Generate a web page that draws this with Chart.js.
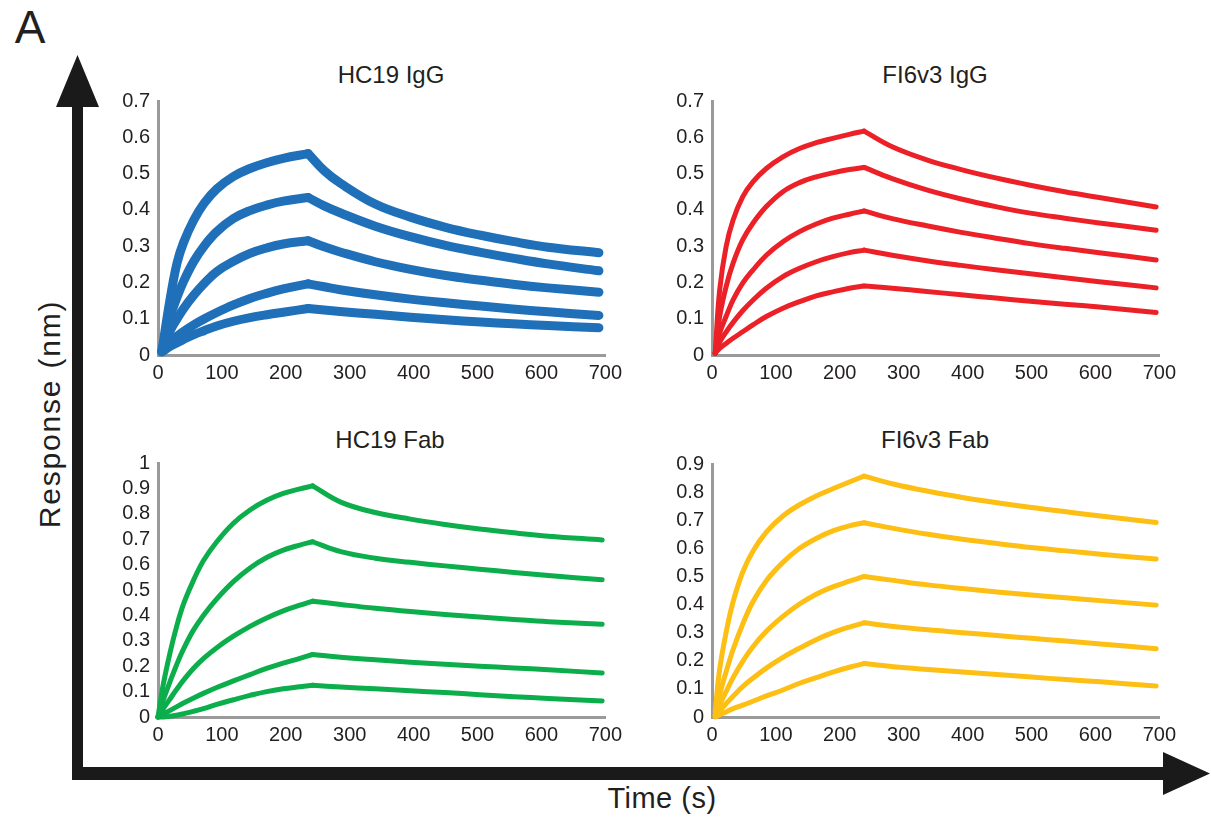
<!DOCTYPE html>
<html>
<head>
<meta charset="utf-8">
<script src="https://cdn.jsdelivr.net/npm/chart.js@4.4.1/dist/chart.umd.min.js"></script>
<style>
    body { margin:0; background:#fff; width:1211px; height:817px; position:relative; overflow:hidden;
           font-family:"Liberation Sans", Arial, sans-serif; color:#231f20; }
    canvas { position:absolute; }
    .lbl { position:absolute; white-space:nowrap; transform:translate(-50%,-50%); }
    .ttl { font-size:24px; }
    #arrows { position:absolute; left:0; top:0; }
</style>
</head>
<body>
<svg id="arrows" width="1211" height="817">
    <rect x="72" y="100" width="11" height="680" fill="#1a1a1a"/>
    <polygon points="56,107 77.5,55 99,107" fill="#1a1a1a"/>
    <rect x="72" y="767" width="1094" height="13" fill="#1a1a1a"/>
    <polygon points="1163,752 1210,773.5 1163,795" fill="#1a1a1a"/>
</svg>

<div class="lbl" style="left:30px;top:27px;font-size:46px;">A</div>
<div class="lbl" style="left:50px;top:414px;font-size:30px;letter-spacing:1.8px;transform:translate(-50%,-50%) rotate(-90deg);">Response (nm)</div>
<div class="lbl" style="left:662px;top:798px;font-size:29px;letter-spacing:0.5px;">Time (s)</div>

<div class="lbl ttl" style="left:391px;top:75px;">HC19 IgG</div>
<div class="lbl ttl" style="left:935px;top:75px;">FI6v3 IgG</div>
<div class="lbl ttl" style="left:390px;top:440px;">HC19 Fab</div>
<div class="lbl ttl" style="left:935px;top:440px;">FI6v3 Fab</div>

<canvas id="hc19IgGChart" width="522" height="306" style="left:106px;top:81px"></canvas>
<canvas id="fi6IgGChart" width="522" height="306" style="left:660px;top:81px"></canvas>
<canvas id="hc19FabChart" width="522" height="306" style="left:106px;top:443px"></canvas>
<canvas id="fi6FabChart" width="522" height="305" style="left:660px;top:444px"></canvas>

<script>
// tick labels
const timeTicks = [0, 100, 200, 300, 400, 500, 600, 700];
const igGTicks = [0, 0.1, 0.2, 0.3, 0.4, 0.5, 0.6, 0.7];
const hc19FabTicks = [0, 0.1, 0.2, 0.3, 0.4, 0.5, 0.6, 0.7, 0.8, 0.9, 1];
const fi6FabTicks = [0, 0.1, 0.2, 0.3, 0.4, 0.5, 0.6, 0.7, 0.8, 0.9];

// HC19 IgG (blue), time in s, response in nm, highest concentration first
const hc19IgGTime = [6, 20, 30, 40, 56, 72, 92, 118, 144, 170, 196, 235, 260, 285, 340, 395, 450, 505, 555, 610, 690];
const hc19IgGPeak = 235;
const hc19IgG = [
    [0.01, 0.165, 0.255, 0.31, 0.372, 0.418, 0.458, 0.492, 0.514, 0.53, 0.542, 0.555, 0.508, 0.474, 0.416, 0.38, 0.352, 0.33, 0.313, 0.297, 0.282],
    [0.01, 0.11, 0.16, 0.203, 0.258, 0.3, 0.34, 0.376, 0.398, 0.413, 0.424, 0.434, 0.411, 0.392, 0.355, 0.326, 0.302, 0.283, 0.267, 0.251, 0.232],
    [0.01, 0.07, 0.1, 0.128, 0.165, 0.197, 0.23, 0.258, 0.28, 0.295, 0.306, 0.315, 0.298, 0.284, 0.257, 0.236, 0.219, 0.206, 0.195, 0.185, 0.173],
    [0.01, 0.038, 0.052, 0.065, 0.083, 0.099, 0.117, 0.138, 0.156, 0.17, 0.182, 0.196, 0.188, 0.18, 0.166, 0.154, 0.144, 0.135, 0.127, 0.119, 0.109],
    [0.008, 0.025, 0.034, 0.043, 0.056, 0.067, 0.08, 0.093, 0.103, 0.111, 0.118, 0.128, 0.124, 0.12, 0.112, 0.104, 0.097, 0.091, 0.086, 0.081, 0.075]
];

// FI6v3 IgG (red)
const fi6IgGTime = [5, 12, 22, 33, 48, 64, 85, 111, 137, 163, 189, 215, 238, 282, 336, 390, 444, 498, 552, 606, 695];
const fi6IgGPeak = 238;
const fi6IgG = [
    [0.005, 0.179, 0.298, 0.372, 0.436, 0.477, 0.514, 0.546, 0.569, 0.585, 0.597, 0.608, 0.617, 0.574, 0.538, 0.511, 0.488, 0.468, 0.45, 0.434, 0.408],
    [0.005, 0.106, 0.188, 0.253, 0.317, 0.363, 0.409, 0.45, 0.475, 0.491, 0.502, 0.511, 0.517, 0.486, 0.455, 0.43, 0.409, 0.391, 0.377, 0.364, 0.344],
    [0.005, 0.06, 0.106, 0.152, 0.198, 0.234, 0.275, 0.312, 0.34, 0.361, 0.377, 0.388, 0.397, 0.376, 0.356, 0.338, 0.322, 0.307, 0.294, 0.282, 0.262],
    [0.005, 0.035, 0.063, 0.09, 0.122, 0.151, 0.184, 0.216, 0.239, 0.257, 0.271, 0.282, 0.289, 0.275, 0.26, 0.247, 0.235, 0.224, 0.213, 0.202, 0.185],
    [0.005, 0.018, 0.032, 0.046, 0.064, 0.083, 0.106, 0.129, 0.147, 0.163, 0.174, 0.184, 0.19, 0.184, 0.175, 0.166, 0.157, 0.148, 0.14, 0.132, 0.117]
];

// HC19 Fab (green)
const hc19FabTime = [0, 8, 19, 29, 40, 55, 71, 92, 118, 144, 170, 196, 222, 242, 286, 340, 395, 449, 503, 557, 611, 695];
const hc19FabPeak = 242;
const hc19Fab = [
    [0, 0.125, 0.255, 0.355, 0.445, 0.535, 0.615, 0.69, 0.763, 0.815, 0.853, 0.88, 0.898, 0.91, 0.846, 0.805, 0.779, 0.758, 0.74, 0.725, 0.712, 0.697],
    [0, 0.065, 0.14, 0.205, 0.268, 0.34, 0.4, 0.465, 0.533, 0.587, 0.628, 0.657, 0.677, 0.69, 0.651, 0.625, 0.609, 0.595, 0.582, 0.569, 0.557, 0.54],
    [0, 0.032, 0.072, 0.108, 0.145, 0.19, 0.23, 0.273, 0.318, 0.357, 0.39, 0.418, 0.44, 0.456, 0.443, 0.428, 0.415, 0.404, 0.394, 0.384, 0.375, 0.365],
    [0, 0.011, 0.026, 0.04, 0.055, 0.074, 0.093, 0.116, 0.142, 0.167, 0.191, 0.212, 0.231, 0.246, 0.235, 0.225, 0.216, 0.208, 0.2, 0.193, 0.186, 0.173],
    [0, 0, 0.003, 0.007, 0.013, 0.022, 0.033, 0.05, 0.068, 0.085, 0.1, 0.111, 0.119, 0.125, 0.118, 0.111, 0.103, 0.096, 0.088, 0.08, 0.073, 0.063]
];

// FI6v3 Fab (yellow)
const fi6FabTime = [5, 12, 22, 33, 48, 64, 85, 111, 137, 163, 189, 215, 238, 284, 338, 392, 446, 500, 554, 608, 695];
const fi6FabPeak = 238;
const fi6Fab = [
    [0.02, 0.17, 0.3, 0.41, 0.515, 0.59, 0.658, 0.715, 0.755, 0.786, 0.812, 0.836, 0.857, 0.829, 0.803, 0.781, 0.762, 0.745, 0.73, 0.715, 0.692],
    [0.01, 0.08, 0.16, 0.24, 0.33, 0.41, 0.485, 0.55, 0.6, 0.635, 0.662, 0.68, 0.691, 0.671, 0.65, 0.632, 0.617, 0.603, 0.591, 0.579, 0.562],
    [0.005, 0.043, 0.09, 0.14, 0.198, 0.25, 0.305, 0.358, 0.402, 0.437, 0.463, 0.483, 0.5, 0.486, 0.47, 0.457, 0.445, 0.434, 0.424, 0.414, 0.398],
    [0.003, 0.022, 0.047, 0.074, 0.108, 0.138, 0.174, 0.212, 0.245, 0.275, 0.3, 0.32, 0.335, 0.322, 0.31, 0.3, 0.29, 0.28, 0.27, 0.26, 0.243],
    [0, 0.008, 0.018, 0.03, 0.042, 0.056, 0.075, 0.096, 0.12, 0.14, 0.16, 0.177, 0.19, 0.179, 0.169, 0.16, 0.151, 0.142, 0.133, 0.125, 0.11]
];

const tickFont = { family: "Liberation Sans", size: 20 };
const tickColor = "#231f20";
const axisColor = "#9a9a9a";

// association and dissociation are drawn as two pieces so the peak stays sharp
function makePanel(canvasId, times, curves, peakTime, color, lineWidth, yTicks){
    const peak = times.indexOf(peakTime);
    const datasets = [];
    curves.forEach(vals => {
        const pts = times.map((t, i) => ({ x: t, y: vals[i] }));
        [pts.slice(0, peak + 1), pts.slice(peak)].forEach(part => {
            datasets.push({
                data: part, borderColor: color, borderWidth: lineWidth,
                pointRadius: 0, fill: false, clip: false, tension: 0.4,
                borderCapStyle: "round", borderJoinStyle: "round"
            });
        });
    });

    new Chart(document.getElementById(canvasId), {
        type: "line",
        data: { datasets },
        options: {
            responsive: false, animation: false, devicePixelRatio: 1,
            layout: { padding: { top: 12, right: 22 } },
            plugins: { legend: { display: false }, tooltip: { enabled: false } },
            scales: {
                x: {
                    type: "linear", min: 0, max: 700,
                    afterBuildTicks: s => { s.ticks = timeTicks.map(v => ({ value: v })); },
                    afterFit: s => { s.height = 32; },
                    grid: { display: false, drawTicks: false },
                    border: { display: true, color: axisColor, width: 3 },
                    ticks: { font: tickFont, color: tickColor, padding: 6, maxRotation: 0, autoSkip: false }
                },
                y: {
                    min: 0, max: yTicks[yTicks.length - 1],
                    afterBuildTicks: s => { s.ticks = yTicks.map(v => ({ value: v })); },
                    afterFit: s => { s.width = 52; },
                    grid: { display: false, drawTicks: false },
                    border: { display: true, color: axisColor, width: 3 },
                    ticks: { font: tickFont, color: tickColor, padding: 8, autoSkip: false,
                             callback: v => String(+v.toFixed(1)) }
                }
            }
        }
    });
}

makePanel("hc19IgGChart", hc19IgGTime, hc19IgG, hc19IgGPeak, "#1f70b9", 9, igGTicks);
makePanel("fi6IgGChart", fi6IgGTime, fi6IgG, fi6IgGPeak, "#ec2027", 5, igGTicks);
makePanel("hc19FabChart", hc19FabTime, hc19Fab, hc19FabPeak, "#0cad4b", 5, hc19FabTicks);
makePanel("fi6FabChart", fi6FabTime, fi6Fab, fi6FabPeak, "#fdbf14", 5, fi6FabTicks);
</script>
</body>
</html>
